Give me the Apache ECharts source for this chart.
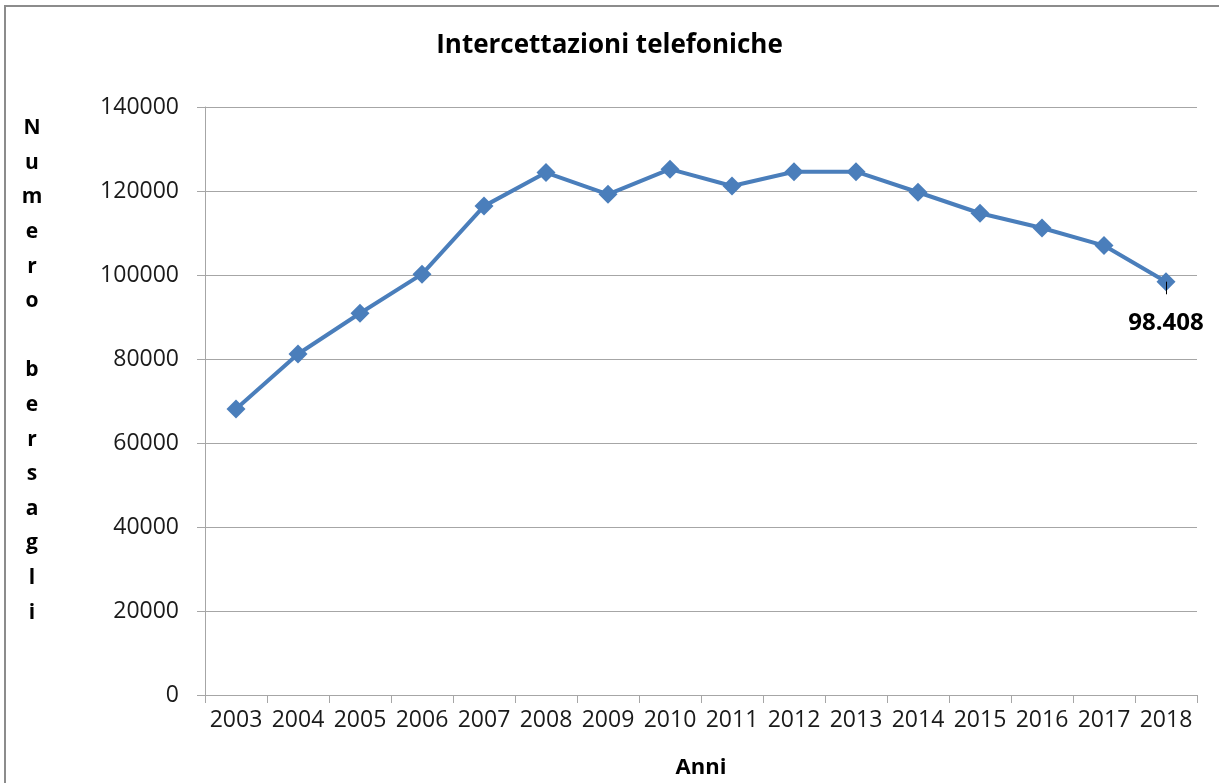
<!DOCTYPE html>
<html>
<head>
<meta charset="utf-8">
<style>
  html, body { margin: 0; padding: 0; background: #fff; }
  #main { width: 1219px; height: 783px; }
</style>
<script src="https://cdn.jsdelivr.net/npm/echarts@6/dist/echarts.min.js"></script>
</head>
<body>
<div id="main"></div>
<script>
  var anni = ['2003', '2004', '2005', '2006', '2007', '2008', '2009', '2010',
              '2011', '2012', '2013', '2014', '2015', '2016', '2017', '2018'];
  var bersagli = [68100, 81200, 90900, 100200, 116400, 124400, 119200, 125200,
                  121200, 124600, 124600, 119700, 114700, 111200, 107000, 98408];
  var yTicks = [0, 20000, 40000, 60000, 80000, 100000, 120000, 140000];

  var font = '"Open Sans", "Liberation Sans", sans-serif';
  var myChart = echarts.init(document.getElementById('main'));

  myChart.setOption({
    animation: false,
    title: {
      text: 'Intercettazioni telefoniche',
      left: 'center',
      top: 28,
      textStyle: { fontFamily: font, fontSize: 26, fontWeight: 'bold', color: '#000' }
    },
    graphic: [
      {
        type: 'polyline',
        shape: { points: [[5, 783], [5, 6], [1219, 6]] },
        style: { stroke: '#8c8c8c', lineWidth: 2, fill: null }
      },
      {
        // y axis title, one letter per line
        type: 'text',
        x: 32,
        y: 111,
        style: {
          text: 'N\nu\nm\ne\nr\no\n \nb\ne\nr\ns\na\ng\nl\ni',
          font: 'bold 21px "Open Sans", "Liberation Sans", sans-serif',
          lineHeight: 34.6,
          fill: '#000',
          align: 'center',
          verticalAlign: 'top'
        }
      }
    ],
    grid: { left: 205, right: 22, top: 107, bottom: 88, outerBoundsMode: 'none' },
    xAxis: {
      type: 'category',
      data: anni,
      boundaryGap: true,
      name: 'Anni',
      nameLocation: 'middle',
      nameGap: 62,
      nameTextStyle: { fontFamily: font, fontSize: 22, fontWeight: 'bold', color: '#000' },
      axisLine: { lineStyle: { color: '#a6a6a6', width: 1 } },
      axisTick: { show: true, length: 8, alignWithLabel: false, lineStyle: { color: '#a6a6a6' } },
      axisLabel: { fontFamily: font, fontSize: 23, color: '#1a1a1a', margin: 14, interval: 0 }
    },
    yAxis: {
      type: 'value',
      min: yTicks[0],
      max: yTicks[yTicks.length - 1],
      interval: yTicks[1] - yTicks[0],
      axisLine: { show: true, lineStyle: { color: '#a6a6a6', width: 1 } },
      axisTick: { show: true, length: 8, lineStyle: { color: '#a6a6a6' } },
      axisLabel: {
        fontFamily: font, fontSize: 23, color: '#1a1a1a', margin: 26,
        formatter: function (v) { return String(v); }
      },
      splitLine: { show: true, lineStyle: { color: '#a6a6a6', width: 1 } }
    },
    series: [
      {
        type: 'line',
        data: bersagli.map(function (v, i) {
          if (i === bersagli.length - 1) {
            return {
              value: v,
              label: {
                show: true,
                position: 'bottom',
                distance: 20,
                formatter: '98.408',
                fontFamily: font,
                fontSize: 24,
                fontWeight: 'bold',
                color: '#000'
              }
            };
          }
          return v;
        }),
        symbol: 'diamond',
        symbolSize: 19,
        lineStyle: { color: '#4a7ebb', width: 4 },
        itemStyle: { color: '#4a7ebb' }
      },
      {
        // short leader tick under the last point
        type: 'line',
        data: anni.map(function (a, i) { return i === anni.length - 1 ? bersagli[i] : null; }),
        symbol: 'none',
        lineStyle: { width: 0 },
        silent: true,
        markLine: {
          symbol: 'none',
          silent: true,
          label: { show: false },
          lineStyle: { color: '#000', width: 1, type: 'solid' },
          data: [[
            { coord: [anni.length - 1, bersagli[bersagli.length - 1]] },
            { coord: [anni.length - 1, bersagli[bersagli.length - 1] - 3000] }
          ]]
        }
      }
    ]
  });
</script>
</body>
</html>
